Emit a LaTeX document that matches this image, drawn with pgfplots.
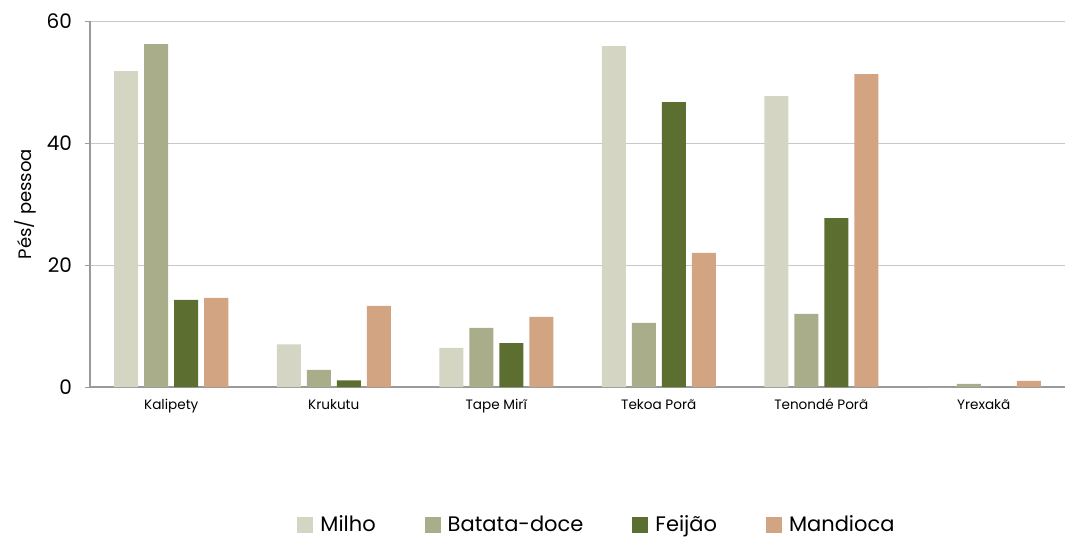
\documentclass[border=0pt]{standalone}
\usepackage{pgfplots}
\pgfplotsset{compat=1.18}
\usepackage{fontspec}
\setmainfont{Poppins}

\definecolor{milho}{HTML}{D4D5C3}
\definecolor{batata}{HTML}{A9AD89}
\definecolor{feijao}{HTML}{5C6F31}
\definecolor{mandioca}{HTML}{D2A482}
\definecolor{eixo}{HTML}{9A9A9A}
\definecolor{grade}{HTML}{C8C8C8}

\pgfplotsset{
  quadrado/.style={legend image code/.code={
    \fill[##1] (0pt,-4pt) rectangle (8pt,4pt);
    \path (9.5pt,0pt);}}
}

\begin{document}
\begin{tikzpicture}
\begin{axis}[
    at={(0,0)}, anchor=south west,
    width=487.5pt, height=183pt,
    scale only axis,
    ybar=3pt, bar width=12pt,
    xmin=-0.5, xmax=5.5,
    ymin=0, ymax=60,
    xtick=data,
    xticklabels={Kalipety, Krukutu, Tape Mirĩ, Tekoa Porã, Tenondé Porã, Yrexakã},
    xticklabel style={font=\fontsize{6.8}{8}\selectfont, yshift=0pt},
    x tick style={draw=none},
    ytick={0,20,40,60},
    yticklabel style={font=\fontsize{10}{12}\selectfont, xshift=-3pt},
    /pgf/number format/assume math mode=true,
    y tick style={eixo, line width=0.5pt},
    tick align=outside, major tick length=2.5pt,
    ymajorgrids, grid style={grade, line width=0.5pt},
    axis x line*=bottom, axis y line*=left,
    x axis line style={eixo, line width=1.1pt, -},
    y axis line style={eixo, line width=0.8pt, -},
    ylabel={Pés/ pessoa},
    ylabel style={font=\fontsize{9}{11}\selectfont, at={(axis description cs:-0.0667,0.5)}, anchor=center},
    legend style={at={(axis description cs:0.521,-0.378)}, anchor=center, draw=none,
      legend columns=-1, font=\fontsize{10.5}{12}\selectfont,
      /tikz/every even column/.append style={column sep=22.5pt}},
    legend cell align=left,
]
\addplot[fill=milho, draw=none, quadrado] coordinates {(0,51.8) (1,7.0) (2,6.4) (3,55.9) (4,47.7) (5,0)};
\addlegendentry{Milho}
\addplot[fill=batata, draw=none, quadrado] coordinates {(0,56.2) (1,2.8) (2,9.7) (3,10.5) (4,12.0) (5,0.5)};
\addlegendentry{Batata-doce}
\addplot[fill=feijao, draw=none, quadrado] coordinates {(0,14.3) (1,1.1) (2,7.2) (3,46.7) (4,27.7) (5,0)};
\addlegendentry{Feijão}
\addplot[fill=mandioca, draw=none, quadrado] coordinates {(0,14.6) (1,13.3) (2,11.5) (3,22.0) (4,51.3) (5,1.0)};
\addlegendentry{Mandioca}
\end{axis}
\pgfresetboundingbox
\path[use as bounding box] (-45pt,-75pt) rectangle (487.5pt,193.5pt);
\end{tikzpicture}
\end{document}
